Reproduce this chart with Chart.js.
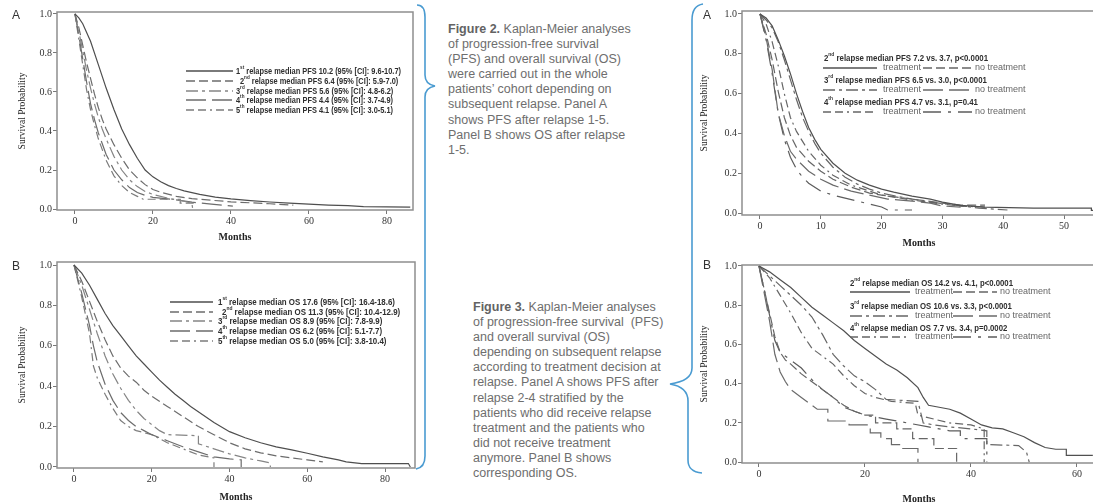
<!DOCTYPE html>
<html>
<head>
<meta charset="utf-8">
<script src="https://cdn.jsdelivr.net/npm/chart.js@4.4.0/dist/chart.umd.min.js"></script>
<style>
  body { margin: 0; width: 1093px; height: 502px; overflow: hidden; background: #fff; position: relative;
         font-family: "Liberation Sans", Arial, sans-serif; }
  canvas { position: absolute; }
  .tag { position: absolute; font-size: 12px; color: #333; line-height: 12px; }
  .cap { position: absolute; font-size: 12.5px; line-height: 15.1px; color: #6e6e6e; white-space: nowrap; }
  .cap b { color: #636363; }
  svg { position: absolute; left: 0; top: 0; pointer-events: none; }
</style>
</head>
<body>

<canvas id="pfsAll" width="420" height="250" style="left:0;top:0"></canvas>
<canvas id="osAll" width="420" height="252" style="left:0;top:250px"></canvas>
<canvas id="pfsTx" width="420" height="250" style="left:680px;top:0"></canvas>
<canvas id="osTx" width="420" height="256" style="left:680px;top:250px"></canvas>

<div class="tag" style="left:12px;top:9px">A</div>
<div class="tag" style="left:12px;top:260px">B</div>
<div class="tag" style="left:703px;top:9px">A</div>
<div class="tag" style="left:703px;top:259px">B</div>

<div class="cap" style="left:448px;top:22px">
<b>Figure 2.</b> Kaplan-Meier analyses<br>
of progression-free survival<br>
(PFS) and overall survival (OS)<br>
were carried out in the whole<br>
patients’ cohort depending on<br>
subsequent relapse. Panel A<br>
shows PFS after relapse 1-5.<br>
Panel B shows OS after relapse<br>
1-5.
</div>

<div class="cap" style="left:473px;top:300px">
<b>Figure 3.</b> Kaplan-Meier analyses<br>
of progression-free survival &nbsp;(PFS)<br>
and overall survival (OS)<br>
depending on subsequent relapse<br>
according to treatment decision at<br>
relapse. Panel A shows PFS after<br>
relapse 2-4 stratified by the<br>
patients who did receive relapse<br>
treatment and the patients who<br>
did not receive treatment<br>
anymore. Panel B shows<br>
corresponding OS.
</div>

<svg width="1093" height="502">
  <path d="M417,5 C422,5 425,9 425,17 L425,75 C425,81 429,85 435,86 C429,87 425,91 425,97 L425,456 C425,464 422,468 416,469"
        fill="none" stroke="#4a9bd1" stroke-width="1.6"/>
  <path d="M703,4 C696,5 692,10 692,20 L692,368 C692,377 684,382 670,384 C682,386 688,392 688,401 L688,460 C688,468 692,472 702,473"
        fill="none" stroke="#4a9bd1" stroke-width="1.6"/>
</svg>

<script>
// ---- tick labels
const probTicks = [0, 0.2, 0.4, 0.6, 0.8, 1.0];
const monthTicks80 = [0, 20, 40, 60, 80];
const monthTicks50 = [0, 10, 20, 30, 40, 50];
const monthTicks60 = [0, 20, 40, 60];

// ---- legend texts
const pfsLabels = [
  '1st relapse median PFS 10.2 (95% [CI]: 9.6-10.7)',
  '2nd relapse median PFS 6.4 (95% [CI]: 5.9-7.0)',
  '3rd relapse median PFS 5.6 (95% [CI]: 4.8-6.2)',
  '4th relapse median PFS 4.4 (95% [CI]: 3.7-4.9)',
  '5th relapse median PFS 4.1 (95% [CI]: 3.0-5.1)'
];
const osLabels = [
  '1st relapse median OS 17.6 (95% [CI]: 16.4-18.6)',
  '2nd relapse median OS 11.3 (95% [CI]: 10.4-12.9)',
  '3rd relapse median OS 8.9 (95% [CI]: 7.8-9.9)',
  '4th relapse median OS 6.2 (95% [CI]: 5.1-7.7)',
  '5th relapse median OS 5.0 (95% [CI]: 3.8-10.4)'
];
const pfsTxLabels = [
  '2nd relapse median PFS 7.2 vs. 3.7, p<0.0001',
  '3rd relapse median PFS 6.5 vs. 3.0, p<0.0001',
  '4th relapse median PFS 4.7 vs. 3.1, p=0.41'
];
const osTxLabels = [
  '2nd relapse median OS 14.2 vs. 4.1, p<0.0001',
  '3rd relapse median OS 10.6 vs. 3.3, p<0.0001',
  '4th relapse median OS 7.7 vs. 3.4, p=0.0002'
];
const groupLabels = ['treatment', 'no treatment'];

// ---- Figure 2A: PFS after relapse 1-5  [month, survival]
const pfsRel1 = [[0,1],[1,0.98],[2,0.95],[4,0.86],[6,0.74],[8,0.62],[10,0.51],[12,0.41],[14,0.33],[16,0.26],[18,0.2],[20,0.165],[22,0.14],[24,0.12],[26,0.105],[28,0.093],[32,0.075],[36,0.061],[40,0.052],[45,0.043],[50,0.036],[55,0.03],[60,0.025],[65,0.02],[70,0.017],[74,0.012],[80,0.011],[86,0.01]];
const pfsRel2 = [[0,1],[1,0.93],[2,0.84],[3,0.75],[4,0.67],[5,0.59],[6,0.52],[7,0.46],[8,0.41],[10,0.33],[12,0.26],[14,0.2],[16,0.16],[18,0.125],[20,0.1],[22,0.086],[26,0.065],[30,0.053],[35,0.045],[40,0.037],[45,0.032],[50,0.027],[56,0.02]];
const pfsRel3 = [[0,1],[1,0.91],[2,0.81],[3,0.71],[4,0.62],[5,0.54],[6,0.47],[7,0.41],[8,0.36],[10,0.27],[12,0.2],[14,0.15],[16,0.115],[18,0.09],[20,0.075],[24,0.055],[28,0.04],[30,0.03],[30.2,0]];
const pfsRel4 = [[0,1],[1,0.89],[2,0.77],[3,0.65],[4,0.54],[5,0.46],[6,0.39],[8,0.28],[10,0.2],[12,0.15],[14,0.11],[16,0.085],[18,0.07],[20,0.06],[25,0.05],[30,0.035],[35,0.025],[40.5,0.015]];
const pfsRel5 = [[0,1],[1,0.87],[2,0.74],[3,0.61],[4,0.51],[5,0.43],[6,0.36],[8,0.25],[10,0.17],[12,0.12],[14,0.085],[16,0.065],[17.5,0.05],[27,0.05],[27,0.03],[31,0.03]];

// ---- Figure 2B: OS after relapse 1-5
const osRel1 = [[0,1],[2,0.96],[4,0.9],[6,0.83],[8,0.76],[10,0.7],[12,0.65],[14,0.6],[16,0.55],[18,0.51],[20,0.47],[22,0.43],[24,0.395],[26,0.36],[28,0.33],[30,0.3],[33,0.26],[36,0.22],[40,0.175],[44,0.145],[48,0.12],[52,0.1],[56,0.085],[60,0.068],[64,0.05],[68,0.035],[70,0.025],[74,0.017],[86,0.017],[86.5,0]];
const osRel2 = [[0,1],[2,0.92],[4,0.82],[6,0.72],[8,0.63],[10,0.55],[12,0.49],[14,0.45],[16,0.42],[18,0.38],[20,0.35],[24,0.3],[28,0.25],[32,0.2],[36,0.16],[40,0.12],[44,0.09],[48,0.07],[52,0.055],[56,0.045],[60,0.035],[64,0.025]];
const osRel3 = [[0,1],[2,0.9],[4,0.78],[6,0.66],[8,0.55],[10,0.46],[12,0.39],[14,0.33],[16,0.28],[18,0.24],[20,0.21],[22,0.18],[24,0.16],[32,0.155],[32,0.115],[36,0.09],[40,0.065],[44,0.045],[48,0.03],[50.5,0.02],[50.5,0]];
const osRel4 = [[0,1],[2,0.86],[4,0.7],[5,0.6],[6,0.52],[8,0.41],[10,0.33],[12,0.27],[14,0.23],[16,0.2],[18,0.18],[20,0.16],[24,0.13],[28,0.1],[32,0.075],[36,0.05],[40,0.04],[43,0.035],[43,0]];
const osRel5 = [[0,1],[2,0.84],[4,0.66],[5,0.5],[6,0.44],[8,0.36],[10,0.29],[12,0.23],[14,0.2],[16,0.18],[20,0.16],[24,0.12],[28,0.09],[32,0.06],[36,0.045],[36,0]];

// ---- Figure 3A: PFS by treatment decision
const pfs2Tx = [[0,1],[1,0.98],[2,0.94],[3,0.87],[4,0.79],[5,0.7],[6,0.6],[7,0.51],[8,0.43],[9,0.37],[10,0.32],[12,0.25],[14,0.2],[16,0.165],[18,0.14],[20,0.12],[22,0.105],[25,0.085],[28,0.07],[30,0.055],[33,0.038],[37,0.03],[45,0.025],[54.5,0.025],[54.5,0.013],[56,0.013]];
const pfs2NoTx = [[0,1],[1,0.9],[2,0.77],[3,0.61],[4,0.48],[5,0.39],[6,0.33],[8,0.26],[10,0.21],[12,0.17],[15,0.13],[18,0.1],[20,0.09],[25,0.07],[30,0.05],[33,0.04],[37,0.04]];
const pfs3Tx = [[0,1],[1,0.97],[2,0.93],[3,0.86],[4,0.77],[5,0.67],[6,0.57],[7,0.48],[8,0.41],[9,0.35],[10,0.3],[12,0.23],[14,0.18],[16,0.145],[18,0.12],[20,0.1],[24,0.075],[28,0.055],[32,0.04],[36,0.025],[40.7,0.015]];
const pfs3NoTx = [[0,1],[1,0.88],[2,0.72],[3,0.5],[4,0.39],[5,0.31],[6,0.27],[8,0.21],[10,0.17],[12,0.14],[15,0.11],[18,0.09],[21,0.07],[25,0.06],[28,0.05],[30,0.035],[33,0.03]];
const pfs4Tx = [[0,1],[1,0.95],[2,0.86],[3,0.74],[4,0.6],[5,0.48],[6,0.41],[8,0.31],[10,0.24],[12,0.19],[15,0.14],[18,0.11],[20,0.09],[25,0.065],[30,0.045],[33,0.035],[37,0.03]];
const pfs4NoTx = [[0,1],[1,0.87],[2,0.7],[3,0.5],[4,0.37],[5,0.28],[6,0.22],[7,0.18],[8,0.15],[10,0.11],[12,0.09],[14,0.075],[16,0.06],[18,0.045],[20,0.03],[21,0.015],[25,0.015]];

// ---- Figure 3B: OS by treatment decision
const os2Tx = [[0,1],[2,0.97],[4,0.93],[6,0.89],[8,0.84],[10,0.79],[12,0.75],[14,0.71],[16,0.67],[18,0.62],[20,0.58],[22,0.54],[24,0.5],[26,0.47],[28,0.43],[30,0.38],[31,0.33],[32,0.29],[34,0.28],[36,0.27],[38,0.25],[40,0.22],[42,0.19],[44,0.175],[46,0.17],[48,0.15],[50,0.13],[52,0.1],[54,0.075],[56,0.066],[58,0.066],[58,0.035],[63,0.035]];
const os2NoTx = [[0,1],[1,0.88],[2,0.76],[3,0.64],[4,0.56],[5,0.52],[6,0.5],[8,0.45],[10,0.41],[12,0.37],[14,0.33],[16,0.29],[18,0.26],[20,0.24],[22,0.24],[22,0.2],[26,0.2],[26,0.17],[29,0.17],[29,0.12],[33,0.12],[33,0.07],[37.3,0.07],[37.3,0]];
const os3Tx = [[0,1],[2,0.95],[4,0.9],[6,0.85],[8,0.8],[10,0.74],[12,0.65],[14,0.55],[16,0.49],[18,0.44],[20,0.41],[22,0.37],[24,0.32],[30,0.31],[31,0.2],[33,0.19],[36,0.18],[40,0.17],[43,0.16],[43,0.09],[49,0.085],[50.5,0.05],[51,0]];
const os3NoTx = [[0,1],[1,0.86],[2,0.72],[3,0.55],[4,0.46],[5,0.41],[6,0.37],[8,0.33],[10,0.29],[11,0.27],[13,0.27],[13,0.21],[17,0.21],[17,0.19],[21,0.19],[21,0.15],[23,0.15],[23,0.12],[25,0.12],[25,0.09],[27,0.09],[27,0.07],[30,0.07],[30,0]];
const os4Tx = [[0,1],[2,0.94],[4,0.85],[6,0.76],[8,0.66],[10,0.58],[12,0.54],[14,0.5],[16,0.44],[18,0.39],[20,0.35],[22,0.33],[25,0.31],[29.5,0.3],[30,0.24],[33,0.22],[36,0.2],[40,0.19],[42.5,0.17],[42.5,0]];
const os4NoTx = [[0,1],[1,0.88],[2,0.75],[3,0.62],[4,0.56],[6,0.52],[8,0.48],[10,0.42],[12,0.37],[14,0.33],[16,0.28],[18,0.26],[20,0.24],[24,0.22],[28,0.2],[32,0.18],[36,0.16],[38,0.16],[38,0.12],[43,0.12],[43,0]];

// line styles
const DASH = {
  solid: [],
  dash: [9, 4],
  dashDot: [12, 4, 3, 4],
  longDash: [20, 6],
  dashDotDot: [8, 4, 8, 4, 2, 4],
  longShort: [18, 7, 3, 7]
};
const SERIF = '"Liberation Serif", "Times New Roman", serif';
const SANS = '"Liberation Sans", Arial, sans-serif';

function ordParts(str) {
  const m = str.match(/^(\d)(st|nd|rd|th)(.*)$/);
  return m ? [m[1], m[2], m[3]] : [str, '', ''];
}
function ordWidth(ctx, str, size, weight) {
  const [a, b, c] = ordParts(str);
  ctx.font = weight + ' ' + size + 'px ' + SANS;
  let w = ctx.measureText(a).width + ctx.measureText(c).width;
  ctx.font = weight + ' ' + (size * 0.62) + 'px ' + SANS;
  return w + ctx.measureText(b).width;
}
function ordText(ctx, str, x, y, size, weight, sq) {
  const [a, b, c] = ordParts(str);
  ctx.save();
  ctx.translate(x, y);
  ctx.scale(sq, 1);
  ctx.textBaseline = 'middle';
  ctx.font = weight + ' ' + size + 'px ' + SANS;
  ctx.fillText(a, 0, 0);
  let cx = ctx.measureText(a).width;
  ctx.font = weight + ' ' + (size * 0.62) + 'px ' + SANS;
  ctx.fillText(b, cx, -size * 0.36);
  cx += ctx.measureText(b).width;
  ctx.font = weight + ' ' + size + 'px ' + SANS;
  ctx.fillText(c, cx, 0);
  ctx.restore();
}
function sample(ctx, ds, x, y, w) {
  ctx.save();
  ctx.strokeStyle = ds.borderColor;
  ctx.lineWidth = 1.3;
  ctx.setLineDash(ds.borderDash || []);
  ctx.beginPath();
  ctx.moveTo(x, y);
  ctx.lineTo(x + w, y);
  ctx.stroke();
  ctx.restore();
}

// frame round the plot + legend block
const kmDecor = {
  id: 'kmDecor',
  afterDraw(chart, args, opts) {
    const ctx = chart.ctx;
    const a = chart.chartArea;
    ctx.save();
    ctx.strokeStyle = '#8e8e8e';
    ctx.lineWidth = 1.5;
    ctx.strokeRect(a.left, a.top, a.right - a.left, a.bottom - a.top);
    const lg = opts.legend;
    if (lg) {
      const ds = chart.data.datasets;
      const sq = lg.fit / ordWidth(ctx, lg.titles[0], lg.size, 'bold');
      ctx.fillStyle = '#2e2e2e';
      lg.titles.forEach((t, i) => {
        const y = lg.titleY[i];
        if (lg.simple) {
          sample(ctx, ds[i], lg.lineX, y, lg.lineW);
          ordText(ctx, t, lg.textX[i], y, lg.size, 'bold', sq);
        } else {
          ordText(ctx, t, lg.textX, y, lg.size, 'bold', sq);
          const ry = lg.rowY[i];
          sample(ctx, ds[2 * i], lg.cols[0], ry, lg.cols[1]);
          sample(ctx, ds[2 * i + 1], lg.cols[3], ry, lg.cols[4]);
          ctx.fillStyle = '#666';
          ctx.textBaseline = 'middle';
          ctx.font = '9px ' + SANS;
          ctx.fillText(groupLabels[0], lg.cols[2], ry);
          ctx.fillText(groupLabels[1], lg.cols[5], ry);
          ctx.fillStyle = '#2e2e2e';
        }
      });
    }
    ctx.restore();
  }
};

function kmChart(id, c) {
  return new Chart(document.getElementById(id), {
    type: 'line',
    data: {
      datasets: c.curves.map((pts, i) => ({
        data: pts.map(p => ({ x: p[0], y: p[1] })),
        borderColor: c.colors[i],
        borderWidth: 1.2,
        borderDash: c.dash[i],
        pointRadius: 0,
        fill: false,
        tension: 0
      }))
    },
    options: {
      responsive: false,
      animation: false,
      events: [],
      layout: { padding: c.pad },
      plugins: { legend: { display: false }, tooltip: { enabled: false }, kmDecor: { legend: c.legend } },
      scales: {
        x: {
          type: 'linear', min: c.x[0], max: c.x[1],
          afterBuildTicks: ax => { ax.ticks = c.xTicks.map(v => ({ value: v })); },
          afterFit: ax => { ax.height = c.xH; },
          grid: { drawOnChartArea: false, drawTicks: true, tickLength: 4, color: '#777' },
          border: { display: false },
          ticks: { autoSkip: false, maxRotation: 0, padding: 1, color: '#333',
                   font: { family: SERIF, size: 10 }, callback: v => String(v) },
          title: { display: true, text: 'Months', color: '#222', padding: 0,
                   font: { family: SERIF, size: 10, weight: 'bold', lineHeight: 1 } }
        },
        y: {
          type: 'linear', min: c.y[0], max: c.y[1],
          afterBuildTicks: ax => { ax.ticks = probTicks.map(v => ({ value: v })); },
          afterFit: ax => { ax.width = c.yW; },
          grid: { drawOnChartArea: false, drawTicks: true, tickLength: 4, color: '#777' },
          border: { display: false },
          ticks: { autoSkip: false, padding: 1, color: '#333',
                   font: { family: SERIF, size: 10 }, callback: v => v.toFixed(1) },
          title: { display: true, text: 'Survival Probability', color: '#222', padding: 0,
                   font: { family: SERIF, size: 9.5, lineHeight: 1 } }
        }
      }
    },
    plugins: [kmDecor]
  });
}

const leftDash = [DASH.solid, DASH.dash, DASH.dashDot, DASH.longDash, DASH.dashDotDot];
const leftColors = ['#4e4e4e', '#6c6c6c', '#858585', '#6c6c6c', '#7c7c7c'];
const rightDash = [DASH.solid, DASH.dash, DASH.dashDot, DASH.longDash, DASH.dashDotDot, DASH.longShort];
const rightColors = ['#505050', '#666', '#666', '#6a6a6a', '#666', '#5c5c5c'];

kmChart('pfsAll', {
  curves: [pfsRel1, pfsRel2, pfsRel3, pfsRel4, pfsRel5], dash: leftDash, colors: leftColors,
  x: [-4.6, 86.7], xTicks: monthTicks80, y: [-0.005, 1.01],
  pad: { left: 18, top: 12, right: 7, bottom: 8 }, yW: 39, xH: 32,
  legend: { simple: true, titles: pfsLabels, size: 9.5, fit: 165,
            titleY: [71, 81, 91, 100, 110], lineX: 186, lineW: 47, textX: [236, 240, 236, 236, 236] }
});
kmChart('osAll', {
  curves: [osRel1, osRel2, osRel3, osRel4, osRel5], dash: leftDash, colors: leftColors,
  x: [-4.37, 87.7], xTicks: monthTicks80, y: [-0.005, 1.015],
  pad: { left: 18, top: 12, right: 5, bottom: 0 }, yW: 39, xH: 34,
  legend: { simple: true, titles: osLabels, size: 9.5, fit: 177,
            titleY: [52, 62, 71, 81, 91], lineX: 170, lineW: 43, textX: [218, 222, 218, 218, 218] }
});
kmChart('pfsTx', {
  curves: [pfs2Tx, pfs2NoTx, pfs3Tx, pfs3NoTx, pfs4Tx, pfs4NoTx], dash: rightDash, colors: rightColors,
  x: [-2.96, 55.26], xTicks: monthTicks50, y: [-0.01, 1.015],
  pad: { left: 20, top: 11, right: 4, bottom: 2 }, yW: 42, xH: 33,
  legend: { simple: false, titles: pfsTxLabels, size: 9.5, fit: 164, textX: 144,
            titleY: [58, 80, 102], rowY: [68, 90, 112], cols: [143, 54, 203, 243, 49, 295] }
});
kmChart('osTx', {
  curves: [os2Tx, os2NoTx, os3Tx, os3NoTx, os4Tx, os4NoTx], dash: rightDash, colors: rightColors,
  x: [-3.2, 63.6], xTicks: monthTicks60, y: [-0.004, 1.005],
  pad: { left: 20, top: 15, right: 4, bottom: 2 }, yW: 42, xH: 41,
  legend: { simple: false, titles: osTxLabels, size: 9.5, fit: 163, textX: 170,
            titleY: [33, 56, 78], rowY: [42, 66, 87], cols: [170, 60, 235, 273, 44, 320] }
});
</script>
</body>
</html>
